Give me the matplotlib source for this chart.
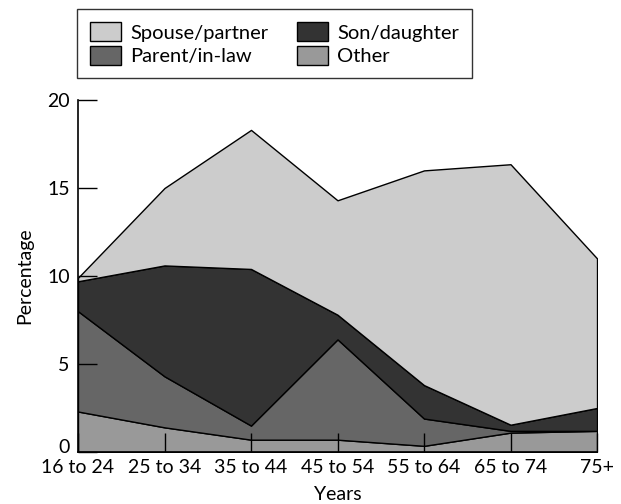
import matplotlib
matplotlib.use("Agg")
import matplotlib.pyplot as plt
import matplotlib.transforms as mtransforms
from matplotlib.patches import Patch

plt.rcParams['font.family'] = ['Lato', 'DejaVu Sans']

ages = ["16 to 24", "25 to 34", "35 to 44", "45 to 54", "55 to 64", "65 to 74", "75+"]

# share of each relationship, stacked bottom to top
other = [2.3, 1.4, 0.7, 0.7, 0.35, 1.1, 1.2]
parent = [5.7, 2.9, 0.8, 5.7, 1.55, 0.1, 0.0]
son = [1.7, 6.3, 8.9, 1.4, 1.9, 0.35, 1.3]
spouse = [0.2, 4.4, 7.9, 6.5, 12.2, 14.8, 8.5]

labels = ["Other", "Parent/in-law", "Son/daughter", "Spouse/partner"]
colours = ["#999999", "#666666", "#333333", "#cccccc"]

fig = plt.figure(figsize=(6.21, 5.04), dpi=100)
ax = fig.add_axes([0.1256, 0.1032, 0.8358, 0.6984])

x = list(range(len(ages)))
ax.stackplot(x, other, parent, son, spouse, colors=colours,
             edgecolor="black", linewidth=1)

ax.set_xlim(0, len(ages) - 1)
ax.set_ylim(0, 20)
ax.set_xticks(x)
ax.set_xticklabels(ages)
ax.set_yticks([0, 5, 10, 15, 20])
ax.tick_params(axis="both", direction="in", length=14, width=1,
               labelsize=14, colors="black")
ax.tick_params(axis="x", pad=5)
ax.tick_params(axis="y", pad=6)
for s in ["top", "right"]:
    ax.spines[s].set_visible(False)
for s in ["left", "bottom"]:
    ax.spines[s].set_linewidth(1.2)

# lift the "0" a little so it clears "16 to 24"
zero = ax.get_yticklabels()[0]
zero.set_transform(zero.get_transform() +
                   mtransforms.ScaledTranslation(0, 4 / 72, fig.dpi_scale_trans))

ax.set_xlabel("Years", fontsize=14, labelpad=7)
ax.set_ylabel("Percentage", fontsize=14, labelpad=10)

order = [3, 1, 2, 0]
handles = [Patch(facecolor=colours[i], edgecolor="black", linewidth=1) for i in order]
leg = fig.legend(handles, [labels[i] for i in order], ncol=2,
                 loc="upper left", bbox_to_anchor=(0.124, 0.982),
                 borderaxespad=0, fontsize=14.5, frameon=True, fancybox=False,
                 handlelength=1.55, handleheight=1.1, columnspacing=1.4,
                 handletextpad=0.45, labelspacing=0.2, borderpad=0.65)
leg.get_frame().set_edgecolor("black")
leg.get_frame().set_linewidth(1)

fig.savefig("out.png", dpi=100)
